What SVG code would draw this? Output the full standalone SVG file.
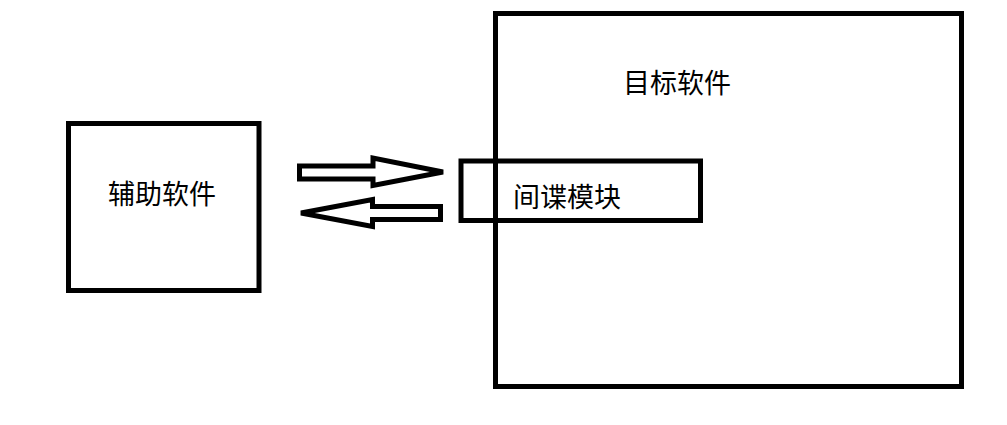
<svg xmlns="http://www.w3.org/2000/svg" width="1007" height="425" viewBox="0 0 1007 425">
<style>
.box{fill:none;stroke:#000;stroke-width:5}
.arrow{fill:#fff;stroke:#000;stroke-width:5;stroke-linejoin:miter}
.lbl{font-family:"Noto Sans CJK SC","Noto Sans",sans-serif;font-size:27px;fill:#000}
</style>
<rect width="1007" height="425" fill="#fff"/>
<g id="target">
<rect class="box" x="495.5" y="13.5" width="466" height="373"/>
<text class="lbl" x="623" y="93">目标软件</text>
</g>
<g id="spy">
<rect class="box" x="461" y="161" width="239.5" height="59.5"/>
<text class="lbl" x="513" y="207">间谍模块</text>
</g>
<g id="helper">
<rect class="box" x="68.5" y="123.5" width="190.5" height="167"/>
<text class="lbl" x="108" y="204">辅助软件</text>
</g>
<g id="connectors">
<path class="arrow" d="M299.5,166 H373 V158 L443,172 L373,185.5 V179 H299.5 Z"/>
<path class="arrow" d="M440.5,206.5 H372.5 V199.5 L301,213 L372.5,226.5 V219.5 H440.5 Z"/>
</g>
</svg>
